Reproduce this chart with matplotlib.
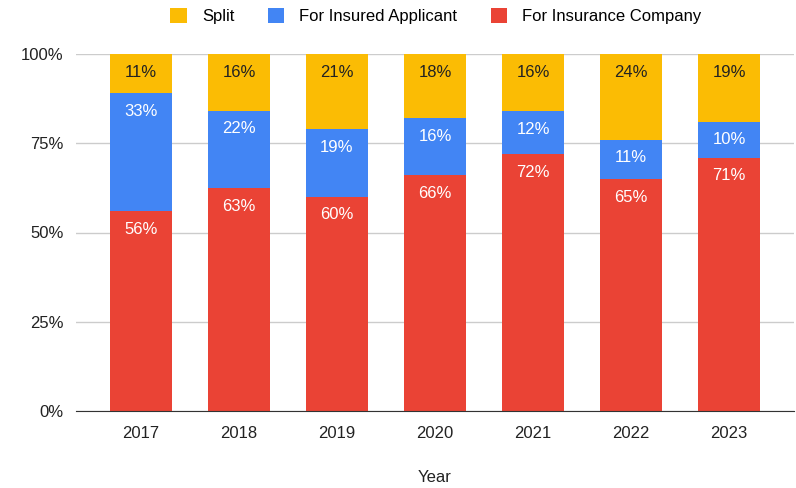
import matplotlib.pyplot as plt
import numpy as np

plt.rcParams['font.family'] = ['Liberation Sans', 'DejaVu Sans']

years = ['2017', '2018', '2019', '2020', '2021', '2022', '2023']
company = [56, 63, 60, 66, 72, 65, 71]
applicant = [33, 22, 19, 16, 12, 11, 10]
split = [11, 16, 21, 18, 16, 24, 19]

red = '#EA4335'
blue = '#4285F4'
yellow = '#FBBC04'

c = np.array(company, float)
a = np.array(applicant, float)
s = np.array(split, float)
tot = c + a + s
c, a, s = c / tot * 100, a / tot * 100, s / tot * 100

fig = plt.figure(figsize=(7.96, 4.88), dpi=100)
ax = fig.add_axes([76/796, 1 - 411/488, (794-76)/796, (411-54)/488])

x = np.arange(len(years))
w = 0.64
ax.bar(x, c, w, color=red, label='For Insurance Company', zorder=3)
ax.bar(x, a, w, bottom=c, color=blue, label='For Insured Applicant', zorder=3)
ax.bar(x, s, w, bottom=c + a, color=yellow, label='Split', zorder=3)

for i in range(len(years)):
    for val, top, col in [(company[i], c[i], 'white'),
                          (applicant[i], c[i] + a[i], 'white'),
                          (split[i], 100, '#222222')]:
        ax.annotate(f'{val}%', (x[i], top), xytext=(0, -13), textcoords='offset points',
                    ha='center', va='center', fontsize=12, color=col, zorder=4)

ax.set_xlim(-0.663, 6.663)
ax.set_ylim(0, 100)
ax.set_yticks([0, 25, 50, 75, 100])
ax.set_yticklabels(['0%', '25%', '50%', '75%', '100%'])
ax.set_xticks(x)
ax.set_xticklabels(years)
ax.tick_params(length=0, labelsize=12, colors='#222222')
ax.tick_params(axis='x', pad=11)
ax.tick_params(axis='y', pad=9)
ax.grid(axis='y', color='#cccccc', linewidth=1, zorder=0)
for sp in ['top', 'right', 'left']:
    ax.spines[sp].set_visible(False)
ax.spines['bottom'].set_color('#333333')
ax.spines['bottom'].set_zorder(5)
fig.text(435/796, 1 - 477/488, 'Year', ha='center', va='center', fontsize=12, color='#222222')

h, l = ax.get_legend_handles_labels()
fig.legend(h[::-1], l[::-1], loc='center', bbox_to_anchor=(436/796, 1 - 16/488), ncol=3,
           frameon=False, fontsize=12, handlelength=1.0, handleheight=1.0,
           handletextpad=0.9, columnspacing=2.0)

fig.savefig('out.png', dpi=100)
